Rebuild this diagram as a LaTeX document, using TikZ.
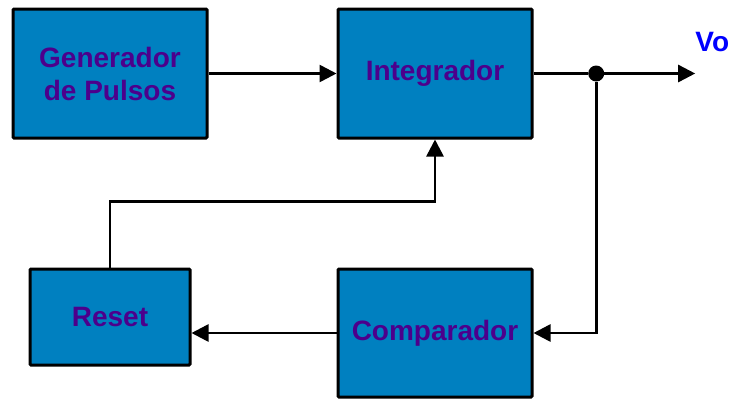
\documentclass[tikz,border=0pt]{standalone}
\usepackage{fontspec}
\setmainfont{Liberation Sans}
\usepackage{tikz}
\usetikzlibrary{positioning}
\usetikzlibrary{arrows.meta}

\definecolor{blockblue}{RGB}{0,128,192}
\definecolor{labelpurple}{RGB}{76,0,140}

\begin{document}
\begin{tikzpicture}[
    x=1pt, y=1pt,
    >={Triangle[length=17pt, width=17pt]},
    blocknode/.style={rectangle, draw=black, fill=blockblue, line width=3pt, rounded corners=1pt,
      text=labelpurple, font=\bfseries\fontsize{28}{33}\selectfont, align=center},
    dotnode/.style={circle, fill=black, inner sep=0pt, minimum size=16pt},
    votext/.style={text=blue, font=\bfseries\fontsize{28}{33}\selectfont},
    wire/.style={line width=2.6pt},
  ]
  \useasboundingbox (0,0) rectangle (734,-400);

  \node[blocknode, minimum width=194pt, minimum height=129pt] (blockGen)   at (110,-73.5) {Generador\\de Pulsos};
  \node[blocknode, minimum width=194pt, minimum height=129pt] (blockInt)   [right=128pt of blockGen] {Integrador};
  \node[blocknode, minimum width=194pt, minimum height=128pt] (blockComp)  [below=128pt of blockInt]  {Comparador};
  \node[blocknode, minimum width=160pt, minimum height=96pt]  (blockReset) [below=128pt of blockGen]  {Reset};
  \node[dotnode]  (junction)  [right=54.5pt of blockInt] {};

  \draw[wire,->] (blockGen) -- (blockInt);
  \draw[wire,->] (blockInt.east) -- (junction) -- ++(99pt,0) coordinate (outEnd);
  \node[votext, inner sep=0pt, above right=22pt and 0pt of outEnd] (labelVo) {Vo};
  \draw[wire,->] (junction) |- (blockComp.east);
  \draw[wire,->] (blockComp.west) -- (blockComp.west -| blockReset.east);
  \draw[wire,->] (blockReset.north) -- ++(0,66pt) -| (blockInt.south);
\end{tikzpicture}
\end{document}
